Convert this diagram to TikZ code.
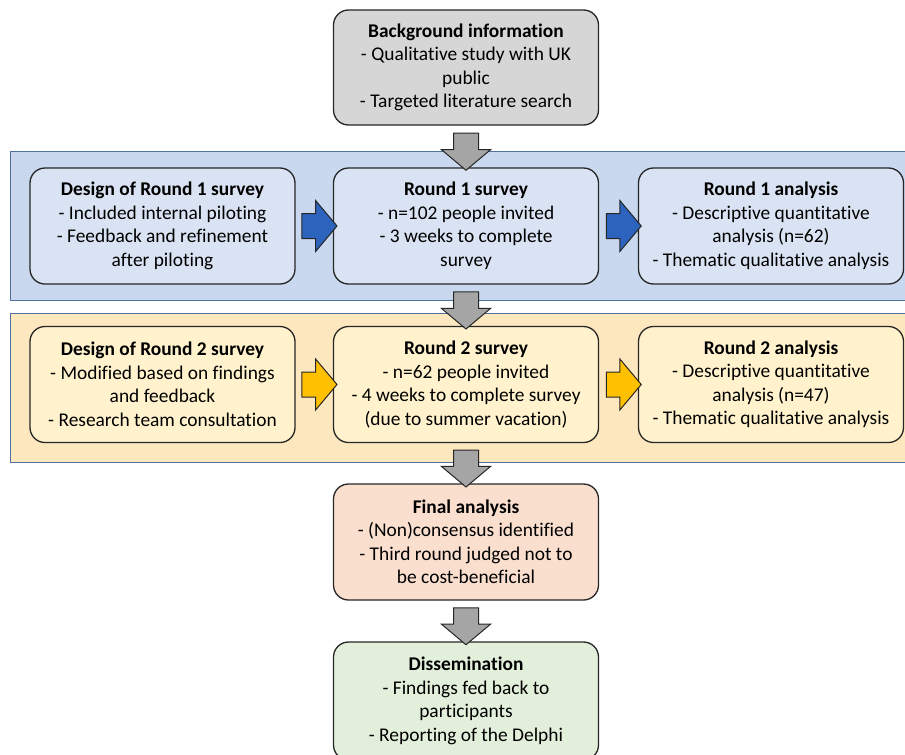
\documentclass[tikz,border=0pt]{standalone}
\usepackage{fontspec}
\setmainfont{Carlito}[RawFeature={-liga;-clig;-calt;-dlig}]
\usetikzlibrary{shapes.arrows,calc}

\definecolor{boxgray}{HTML}{D6D6D6}
\definecolor{arrgray}{HTML}{A5A5A5}
\definecolor{bandblue}{HTML}{C9D8EE}
\definecolor{boxblue}{HTML}{DAE3F3}
\definecolor{arrblue}{HTML}{2C63BC}
\definecolor{bandyellow}{HTML}{FDE7BE}
\definecolor{boxyellow}{HTML}{FFF2CC}
\definecolor{arryellow}{HTML}{FFC000}
\definecolor{boxpeach}{HTML}{FADFCF}
\definecolor{boxgreen}{HTML}{E2EFDA}
\definecolor{bandline}{HTML}{50709E}

\tikzset{
  stage/.style={draw=black!85, line width=1.3pt, rounded corners=15pt, align=center,
    minimum width=265pt, minimum height=116pt, inner sep=2pt,
    font=\fontsize{19.4}{23.5}\selectfont},
  band/.style={draw=bandline, line width=0.9pt},
  downarr/.style={single arrow, draw=black!85, line width=1pt, fill=arrgray,
    rotate=-90, minimum height=37pt, inner xsep=0pt, inner ysep=12pt,
    single arrow head extend=12pt, single arrow tip angle=100},
  sidearr/.style={single arrow, draw=black!85, line width=1pt,
    minimum height=35pt, inner xsep=0pt, inner ysep=12pt,
    single arrow head extend=13pt, single arrow tip angle=100}
}

\begin{document}
\begin{tikzpicture}[x=1pt, y=-1pt]
\useasboundingbox (0,0) rectangle (905,755);

%bands
	\draw[band, fill=bandblue] (10,151) rectangle (915,300);
	\draw[band, fill=bandyellow] (10,313) rectangle (915,462);

%top
	\node[stage, fill=boxgray, minimum height=115pt] (bg) at (466,67.5)
		{\textbf{Background information}\\- Qualitative study with UK\\public\\- Targeted literature search};

%round 1
	\node[stage, fill=boxblue] (d1) at (162.5,226)
		{\textbf{Design of Round 1 survey}\\- Included internal piloting\\- Feedback and refinement\\after piloting};
	\node[stage, fill=boxblue] (s1) at (466,226)
		{\textbf{Round 1 survey}\\- n=102 people invited\\- 3 weeks to complete\\survey};
	\node[stage, fill=boxblue] (a1) at (771,226)
		{\textbf{Round 1 analysis}\\- Descriptive quantitative\\analysis (n=62)\\- Thematic qualitative analysis};

%round 2
	\node[stage, fill=boxyellow] (d2) at (162.5,384.5)
		{\textbf{Design of Round 2 survey}\\- Modified based on findings\\and feedback\\- Research team consultation};
	\node[stage, fill=boxyellow] (s2) at (466,384.5)
		{\textbf{Round 2 survey}\\- n=62 people invited\\- 4 weeks to complete survey\\(due to summer vacation)};
	\node[stage, fill=boxyellow] (a2) at (771,384.5)
		{\textbf{Round 2 analysis}\\- Descriptive quantitative\\analysis (n=47)\\- Thematic qualitative analysis};

%bottom
	\node[stage, fill=boxpeach] (fin) at (466,542)
		{\textbf{Final analysis}\\- (Non)consensus identified\\- Third round judged not to\\be cost-beneficial};
	\node[stage, fill=boxgreen, minimum height=118pt] (dis) at (466,701)
		{\textbf{Dissemination}\\- Findings fed back to\\participants\\- Reporting of the Delphi};

%arrows
	\node[downarr] (g1) at ($(bg.south)!0.5!(s1.north)$) {};
	\node[downarr] (g2) at ($(s1.south)!0.5!(s2.north)$) {};
	\node[downarr] (g3) at ($(s2.south)!0.5!(fin.north)$) {};
	\node[downarr] (g4) at ($(fin.south)!0.5!(dis.north)$) {};

	\node[sidearr, fill=arrblue] (b1) at ($(d1.east)!0.5!(s1.west)$) {};
	\node[sidearr, fill=arrblue] (b2) at ($(s1.east)!0.5!(a1.west)$) {};
	\node[sidearr, fill=arryellow] (y1) at ($(d2.east)!0.5!(s2.west)$) {};
	\node[sidearr, fill=arryellow] (y2) at ($(s2.east)!0.5!(a2.west)$) {};

\end{tikzpicture}
\end{document}
